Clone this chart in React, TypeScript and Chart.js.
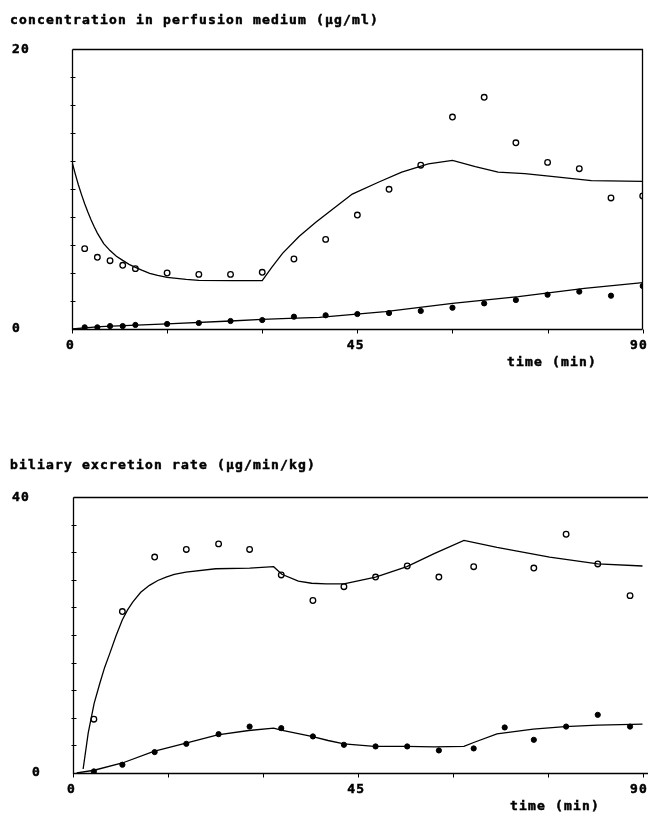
import React, { useEffect, useRef } from "react";
import { Chart, registerables } from "chart.js";

Chart.register(...registerables);

// ---------- data: perfusion medium concentration (µg/ml) ----------
const topTime = [2, 4, 6, 8, 10, 15, 20, 25, 30, 35, 40, 45, 50, 55, 60, 65, 70, 75, 80, 85, 90];
const topOpen = [5.74, 5.12, 4.88, 4.55, 4.31, 4.0, 3.9, 3.9, 4.05, 5.0, 6.4, 8.14, 9.98, 11.7, 15.14, 16.55, 13.3, 11.9, 11.45, 9.36, 9.5];
const topClosed = [0.12, 0.12, 0.21, 0.21, 0.29, 0.36, 0.43, 0.57, 0.64, 0.88, 0.98, 1.07, 1.14, 1.29, 1.52, 1.83, 2.07, 2.45, 2.67, 2.38, 3.07];
const topFitUpperT = [0, 0.5, 1, 1.5, 2, 2.5, 3, 3.5, 4, 5, 6, 7, 8, 9, 10, 11, 12.25, 13.5, 15, 18, 20, 25, 30, 31.5, 33.2, 35.8, 38.4, 41.6, 44.2, 48.4, 52, 56.2, 60, 63.6, 67.2, 71.4, 75.6, 81.9, 90];
const topFitUpperV = [11.95, 11.1, 10.3, 9.6, 8.95, 8.35, 7.8, 7.3, 6.85, 6.1, 5.6, 5.2, 4.9, 4.62, 4.4, 4.2, 3.98, 3.83, 3.69, 3.55, 3.48, 3.45, 3.45, 4.4, 5.4, 6.6, 7.6, 8.74, 9.64, 10.5, 11.2, 11.8, 12.05, 11.6, 11.2, 11.1, 10.9, 10.6, 10.55];
const topFitLowerT = [0, 4.4, 15, 25, 30, 34.2, 39, 49.4, 60, 70.4, 80.8, 90];
const topFitLowerV = [0, 0.17, 0.36, 0.57, 0.69, 0.76, 0.83, 1.24, 1.83, 2.31, 2.9, 3.31];

// ---------- data: biliary excretion rate (µg/min/kg) ----------
const botTime = [3.3, 7.8, 12.9, 17.9, 23, 27.9, 32.9, 37.9, 42.8, 47.8, 52.8, 57.8, 63.3, 68.2, 72.8, 77.9, 82.9, 88];
const botOpen = [7.8, 23.4, 31.3, 32.4, 33.2, 32.4, 28.7, 25.0, 27.0, 28.4, 30.0, 28.4, 29.9, null, 29.7, 34.6, 30.3, 25.7];
const botClosed = [0.23, 1.2, 3.03, 4.23, 5.63, 6.73, 6.5, 5.3, 4.09, 3.85, 3.85, 3.27, 3.56, 6.6, 4.81, 6.73, 8.43, 6.73];
const botFitUpperT = [1.6, 2.4, 3.34, 4.24, 5.0, 5.8, 6.8, 7.8, 8.6, 9.46, 10.7, 12.08, 13.4, 14.7, 16, 17.84, 22.54, 27.92, 31.7, 32.99, 35.6, 37.7, 40, 42.8, 47.8, 52.75, 57.05, 61.76, 66.98, 75.3, 82.9, 90];
const botFitUpperV = [0.58, 5.78, 10.1, 13.0, 15.3, 17.3, 19.9, 22.2, 23.6, 24.8, 26.2, 27.2, 27.9, 28.4, 28.8, 29.1, 29.6, 29.7, 29.9, 28.8, 27.8, 27.5, 27.4, 27.4, 28.4, 29.9, 31.8, 33.7, 32.7, 31.3, 30.3, 30.0];
const botFitLowerT = [0.58, 3.34, 7.8, 12.75, 17.84, 22.85, 27.76, 31.7, 32.7, 37.7, 40.3, 42.8, 47.6, 52.6, 57.05, 61.76, 63.3, 66.98, 72.7, 77.7, 82.9, 90];
const botFitLowerV = [0, 0.4, 1.45, 3.12, 4.33, 5.53, 6.16, 6.5, 6.26, 5.3, 4.71, 4.23, 3.85, 3.85, 3.8, 3.85, 4.42, 5.68, 6.36, 6.73, 6.93, 7.08];

// ---------- axis/tick definitions ----------
const xTickValues = [0, 15, 30, 45, 60, 75, 90];
const xTickLabels = ["0", "45", "90"];
const topYTickStep = 2;
const topYMax = 20;
const botYTickStep = 4;
const botYMax = 40;
const topTitle = "concentration in perfusion medium (µg/ml)";
const botTitle = "biliary excretion rate (µg/min/kg)";
const xTitle = "time (min)";

const FONT = "bold 13px 'DejaVu Sans Mono', 'Liberation Mono', monospace";
const CHAR_STEP = 9;

function pts(t: number[], v: (number | null)[]) {
  return t.map((x, i) => ({ x, y: v[i] as number })).filter((p) => p.y !== null);
}

function monoText(ctx: CanvasRenderingContext2D, s: string, x: number, y: number) {
  for (let i = 0; i < s.length; i++) {
    ctx.strokeText(s[i], x + i * CHAR_STEP, y);
    ctx.fillText(s[i], x + i * CHAR_STEP, y);
  }
}

type Cfg = {
  title: string;
  titleY: number;
  yMax: number;
  yStep: number;
  yTopLabel: string;
  yTopLabelX: number;
  yZeroLabelX: number;
  xLabelY: number;
  xTitleX: number;
  xTitleY: number;
  drawRight: boolean;
  canvasW: number;
};

function makePlugin(cfg: Cfg) {
  return {
    id: "frame",
    afterDraw(chart: any) {
      const { ctx, chartArea } = chart;
      const xs = chart.scales.x;
      const ys = chart.scales.y;
      const L = Math.round(chartArea.left) + 0.5;
      const R = Math.round(chartArea.right) - 0.5;
      const T = Math.round(chartArea.top) + 0.5;
      const B = Math.round(chartArea.bottom) + 0.5;
      ctx.save();
      ctx.strokeStyle = "#000";
      ctx.lineWidth = 1.3;
      ctx.beginPath();
      ctx.moveTo(L, T);
      ctx.lineTo(cfg.drawRight ? R : cfg.canvasW, T);
      if (cfg.drawRight) ctx.lineTo(R, B);
      ctx.moveTo(cfg.drawRight ? R : cfg.canvasW, B);
      ctx.lineTo(L, B);
      ctx.lineTo(L, T);
      ctx.stroke();
      // y ticks
      ctx.lineWidth = 1;
      ctx.beginPath();
      for (let v = cfg.yStep; v < cfg.yMax; v += cfg.yStep) {
        const py = Math.round(ys.getPixelForValue(v)) + 0.5;
        ctx.moveTo(L - 2, py);
        ctx.lineTo(L + 3, py);
      }
      // x ticks
      for (const v of xTickValues) {
        const px = Math.round(xs.getPixelForValue(v)) + 0.5;
        ctx.moveTo(px, B);
        ctx.lineTo(px, B + 4);
      }
      ctx.stroke();
      // texts
      ctx.fillStyle = "#000";
      ctx.strokeStyle = "#000";
      ctx.lineWidth = 0.5;
      ctx.font = FONT;
      ctx.textBaseline = "middle";
      ctx.textAlign = "left";
      monoText(ctx, cfg.title, 10, cfg.titleY);
      monoText(ctx, cfg.yTopLabel, cfg.yTopLabelX, ys.getPixelForValue(cfg.yMax) + 1);
      monoText(ctx, "0", cfg.yZeroLabelX, ys.getPixelForValue(0));
      for (const lab of xTickLabels) {
        const v = Number(lab);
        const w = lab.length * CHAR_STEP - 1;
        let cx = xs.getPixelForValue(v);
        cx = Math.min(cx, cfg.canvasW + 1 - w / 2);
        monoText(ctx, lab, cx - w / 2 - 2, cfg.xLabelY);
      }
      monoText(ctx, xTitle, cfg.xTitleX, cfg.xTitleY);
      ctx.restore();
    },
  };
}

function buildDatasets(
  time: number[],
  open: (number | null)[],
  closed: number[],
  fU: [number[], number[]],
  fL: [number[], number[]]
) {
  const line = (d: any) => ({
    data: d,
    showLine: true,
    borderColor: "#000",
    borderWidth: 1.3,
    pointRadius: 0,
    tension: 0,
    fill: false,
  });
  return [
    line(pts(fU[0], fU[1])),
    line(pts(fL[0], fL[1])),
    {
      data: pts(time, open),
      showLine: false,
      pointRadius: 2.8,
      pointBorderWidth: 1.3,
      pointBorderColor: "#000",
      pointBackgroundColor: "#fff",
    },
    {
      data: pts(time, closed),
      showLine: false,
      pointRadius: 2.6,
      pointBorderWidth: 1,
      pointBorderColor: "#000",
      pointBackgroundColor: "#000",
    },
  ];
}

function Panel(props: {
  top: number;
  height: number;
  padding: { left: number; right: number; top: number; bottom: number };
  datasets: any[];
  yMax: number;
  cfg: Cfg;
}) {
  const ref = useRef<HTMLCanvasElement | null>(null);
  useEffect(() => {
    if (!ref.current) return;
    const chart = new Chart(ref.current, {
      type: "scatter",
      data: { datasets: props.datasets },
      options: {
        responsive: false,
        animation: false,
        devicePixelRatio: 1,
        layout: { padding: props.padding },
        plugins: { legend: { display: false }, tooltip: { enabled: false } },
        scales: {
          x: { type: "linear", min: 0, max: 90, display: false },
          y: { type: "linear", min: 0, max: props.yMax, display: false },
        },
      },
      plugins: [makePlugin(props.cfg)],
    } as any);
    return () => chart.destroy();
  }, []);
  return (
    <canvas
      ref={ref}
      width={648}
      height={props.height}
      style={{ position: "absolute", left: 0, top: props.top, width: 648, height: props.height }}
    />
  );
}

export default function App() {
  const topDatasets = buildDatasets(topTime, topOpen, topClosed, [topFitUpperT, topFitUpperV], [topFitLowerT, topFitLowerV]);
  const botDatasets = buildDatasets(botTime, botOpen, botClosed, [botFitUpperT, botFitUpperV], [botFitLowerT, botFitLowerV]);
  return (
    <div style={{ position: "absolute", left: 0, top: 0, width: 648, height: 813, background: "#fff", overflow: "hidden" }}>
      <Panel
        top={0}
        height={400}
        padding={{ left: 72, right: 2, top: 49, bottom: 71 }}
        datasets={topDatasets}
        yMax={topYMax}
        cfg={{
          title: topTitle,
          titleY: 21,
          yMax: topYMax,
          yStep: topYTickStep,
          yTopLabel: "20",
          yTopLabelX: 12,
          yZeroLabelX: 12,
          xLabelY: 346,
          xTitleX: 507,
          xTitleY: 363,
          drawRight: true,
          canvasW: 648,
        }}
      />
      <Panel
        top={400}
        height={413}
        padding={{ left: 73, right: 1, top: 97, bottom: 40 }}
        datasets={botDatasets}
        yMax={botYMax}
        cfg={{
          title: botTitle,
          titleY: 66,
          yMax: botYMax,
          yStep: botYTickStep,
          yTopLabel: "40",
          yTopLabelX: 12,
          yZeroLabelX: 32,
          xLabelY: 390,
          xTitleX: 510,
          xTitleY: 407,
          drawRight: false,
          canvasW: 648,
        }}
      />
    </div>
  );
}
